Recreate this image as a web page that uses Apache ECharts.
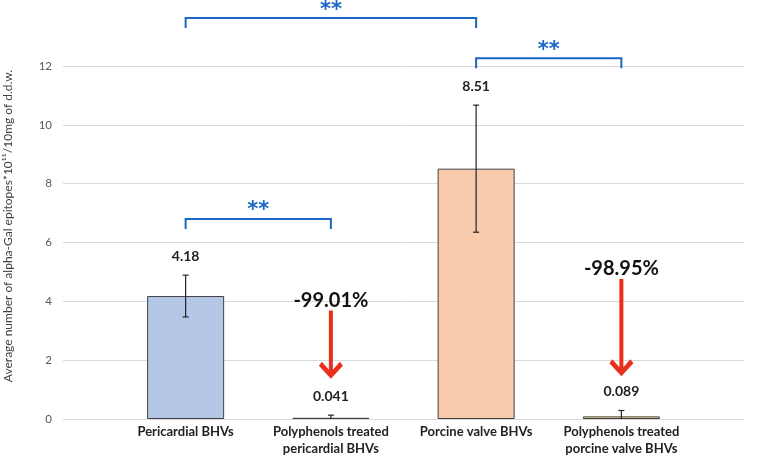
<!DOCTYPE html>
<html>
<head>
<meta charset="utf-8">
<script src="https://cdn.jsdelivr.net/npm/echarts@6/dist/echarts.min.js"></script>
<style>
  html, body { margin: 0; padding: 0; background: #fff; }
  #chart { width: 764px; height: 456px; }
</style>
</head>
<body>
<div id="chart"></div>
<script>
// data
const categories = ['Pericardial BHVs', 'Polyphenols treated\npericardial BHVs', 'Porcine valve BHVs', 'Polyphenols treated\nporcine valve BHVs']
const means = [4.18, 0.041, 8.51, 0.089]
const meanLabels = ['4.18', '0.041', '8.51', '0.089']
const errors = [0.71, 0.09, 2.16, 0.2]
const barColors = ['#b4c7e7', '#a9d18e', '#f8cbad', '#ffe699']

// significance brackets: [from category, to category], bracket level (axis units)
const bracketPairs = [[0, 2], [2, 3], [0, 1]]
const bracketLevels = [13.63, 12.26, 6.8]
const bracketMarks = ['**', '**', '**']

// reduction arrows: category, start, end (axis units), label
const arrowIndex = [1, 3]
const arrowFrom = [3.69, 4.76]
const arrowTo = [1.37, 1.45]
const arrowLabels = ['-99.01%', '-98.95%']

const yTitle = 'Average number of alpha-Gal epitopes*10¹¹/10mg of d.d.w.'

const FONT = 'Lato, "Open Sans", sans-serif'
const BLUE = '#1a67c4'
const RED = '#e8301c'

const chart = echarts.init(document.getElementById('chart'))

function errorBar(params, api) {
  const i = api.value(0), v = api.value(1), e = api.value(2)
  const top = api.coord([i, v + e])
  const bot = api.coord([i, Math.max(0, v - e)])
  const st = { stroke: '#222', lineWidth: 1.2 }
  const kids = [
    { type: 'line', shape: { x1: top[0], y1: top[1], x2: bot[0], y2: bot[1] }, style: st },
    { type: 'line', shape: { x1: top[0] - 3, y1: top[1], x2: top[0] + 3, y2: top[1] }, style: st },
    { type: 'text', x: top[0], y: top[1] - 19, style: { text: meanLabels[params.dataIndex], align: 'center', verticalAlign: 'middle', font: 'bold 14px ' + FONT, fill: '#222' } }
  ]
  if (v - e > 0) kids.push({ type: 'line', shape: { x1: bot[0] - 3, y1: bot[1], x2: bot[0] + 3, y2: bot[1] }, style: st })
  return { type: 'group', children: kids }
}

function bracket(params, api) {
  const k = params.dataIndex
  const a = api.coord([api.value(0), api.value(2)])
  const b = api.coord([api.value(1), api.value(2)])
  const tip = 10
  return {
    type: 'group',
    children: [
      { type: 'polyline', shape: { points: [[a[0], a[1] + tip], [a[0], a[1]], [b[0], b[1]], [b[0], b[1] + tip]] }, style: { stroke: BLUE, lineWidth: 2, fill: null } },
      { type: 'text', x: (a[0] + b[0]) / 2, y: a[1] - 8, style: { text: bracketMarks[k], align: 'center', verticalAlign: 'middle', font: 'bold 21px "DejaVu Sans", sans-serif', fill: BLUE } }
    ]
  }
}

function arrow(params, api) {
  const k = params.dataIndex
  const s = api.coord([api.value(0), api.value(1)])
  const t = api.coord([api.value(0), api.value(2)])
  const x = s[0], y0 = s[1], y1 = t[1]
  const pts = [
    [x - 2, y0], [x + 2, y0], [x + 2, y1 - 9], [x + 9, y1 - 17], [x + 12, y1 - 13],
    [x, y1], [x - 12, y1 - 13], [x - 9, y1 - 17], [x - 2, y1 - 9]
  ]
  return {
    type: 'group',
    children: [
      { type: 'polygon', shape: { points: pts }, style: { fill: RED } },
      { type: 'text', x: x, y: y0 - 10, style: { text: arrowLabels[k], align: 'center', verticalAlign: 'middle', font: 'bold 20px ' + FONT, fill: '#111' } }
    ]
  }
}

chart.setOption({
  animation: false,
  backgroundColor: '#fff',
  grid: [
    { left: 63, right: 20, top: 66, bottom: 37, outerBoundsMode: 'none' },
    { left: 113, right: 70, top: 66, bottom: 37, outerBoundsMode: 'none' }
  ],
  xAxis: [
    { gridIndex: 0, type: 'value', min: 0, max: 1, show: false },
    {
      gridIndex: 1, type: 'category', data: categories,
      axisLine: { show: false }, axisTick: { show: false },
      axisLabel: { interval: 0, margin: 4, color: '#222', fontFamily: FONT, fontWeight: 'bold', fontSize: 13, lineHeight: 17 }
    }
  ],
  yAxis: [
    {
      gridIndex: 0, type: 'value', min: 0, max: 12, interval: 2,
      axisLine: { show: false }, axisTick: { show: false },
      axisLabel: { color: '#595959', fontFamily: FONT, fontSize: 11.5, margin: 11 },
      splitLine: { lineStyle: { color: '#d9d9d9', width: 1 } }
    },
    { gridIndex: 1, type: 'value', min: 0, max: 12, interval: 2, show: false, splitLine: { show: false } }
  ],
  graphic: [
    {
      type: 'text', x: 8, y: 226, rotation: Math.PI / 2,
      style: { text: yTitle, align: 'center', verticalAlign: 'middle', font: '12px ' + FONT, fill: '#404040' }
    }
  ],
  series: [
    {
      type: 'bar', xAxisIndex: 1, yAxisIndex: 1, barWidth: 77,
      data: means.map((m, i) => ({ value: m, itemStyle: { color: barColors[i], borderColor: '#404040', borderWidth: 1 } }))
    },
    {
      type: 'custom', xAxisIndex: 1, yAxisIndex: 1, renderItem: errorBar, z: 5,
      data: means.map((m, i) => [i, m, errors[i]])
    },
    {
      type: 'custom', xAxisIndex: 1, yAxisIndex: 1, renderItem: bracket, clip: false, z: 6,
      encode: { x: [0, 1], y: 2 },
      data: bracketPairs.map((p, i) => [p[0], p[1], bracketLevels[i]])
    },
    {
      type: 'custom', xAxisIndex: 1, yAxisIndex: 1, renderItem: arrow, clip: false, z: 6,
      encode: { x: 0, y: [1, 2] },
      data: arrowIndex.map((c, i) => [c, arrowFrom[i], arrowTo[i]])
    }
  ]
})
</script>
</body>
</html>
